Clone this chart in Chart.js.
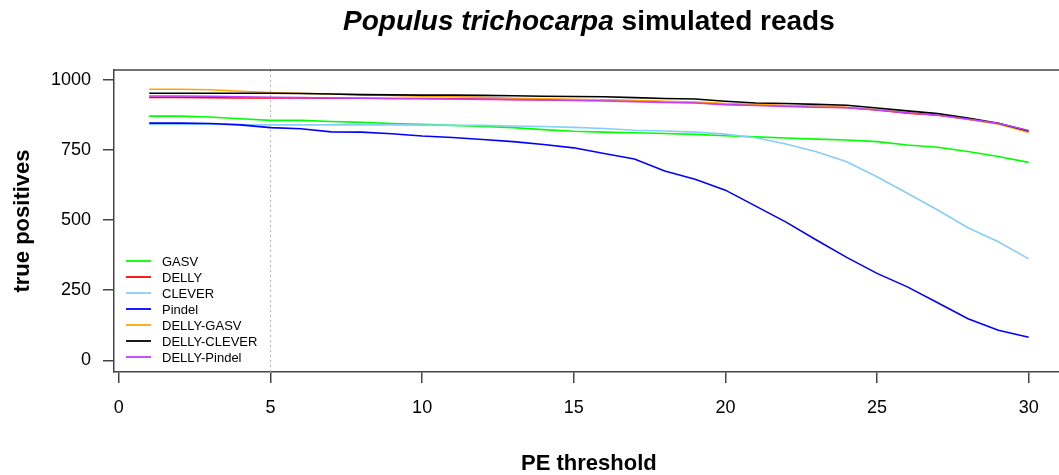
<!DOCTYPE html>
<html>
<head>
<meta charset="utf-8">
<script src="https://cdn.jsdelivr.net/npm/chart.js@4/dist/chart.umd.min.js"></script>
<style>
  html, body { margin: 0; padding: 0; background: #fff; overflow: hidden; }
</style>
</head>
<body>
<canvas id="grafikPE" width="1059" height="475"></canvas>
<script>
// data (true positives per PE threshold)
const thresholds = [1,2,3,4,5,6,7,8,9,10,11,12,13,14,15,16,17,18,19,20,21,22,23,24,25,26,27,28,29,30];

const gasv        = [871,871,868,862,856,856,852,849,845,842,838,834,830,823,817,814,812,809,806,801,797,793,789,786,780,768,760,745,727,706];
const delly       = [938,938,937,936,936,936,935,935,934,934,933,932,931,930,929,928,926,922,920,914,911,908,905,902,893,882,874,860,844,818];
const clever      = [842,842,842,841,840,840,840,840,840,839,838,838,836,834,831,827,821,818,814,807,794,772,744,708,655,596,536,473,423,362];
const pindel      = [846,846,845,840,830,826,815,814,808,800,795,788,780,770,758,738,718,675,646,607,550,493,429,367,310,262,205,148,107,82];
const dellyGasv   = [967,967,965,960,955,953,950,947,945,942,940,938,935,933,931,929,927,924,921,916,912,909,906,902,894,884,876,860,843,813];
const dellyClever = [953,953,953,953,953,952,950,948,947,946,946,945,944,942,941,940,937,934,932,924,918,916,913,910,900,890,880,864,846,818];
const dellyPindel = [943,943,942,940,938,937,936,935,934,933,932,931,930,929,927,925,923,920,918,912,909,906,903,901,893,883,875,861,846,820];

const seriesNames  = ["GASV", "DELLY", "CLEVER", "Pindel", "DELLY-GASV", "DELLY-CLEVER", "DELLY-Pindel"];
const seriesValues = [gasv, delly, clever, pindel, dellyGasv, dellyClever, dellyPindel];
const lineColors   = ["#00ff00", "#ff0000", "#87cefa", "#0000ff", "#ffa500", "#000000", "#bf3eff"];

const xTicks = [0, 5, 10, 15, 20, 25, 30];
const yTicks = [0, 250, 500, 750, 1000];
const cutoff = 5;

const FONT = "'Liberation Sans', Arial, sans-serif";

// judul, label sumbu, garis cutoff, kotak dan legenda ala R
const rStyle = {
  id: "rStyle",
  beforeDatasetsDraw(chart) {
    const ctx = chart.ctx;
    const a = chart.chartArea;
    const xs = chart.scales.x;
    const px = Math.round(xs.getPixelForValue(cutoff)) + 0.5;
    ctx.save();
    ctx.strokeStyle = "#b4b4b4";
    ctx.lineWidth = 1;
    ctx.setLineDash([2, 3]);
    ctx.beginPath();
    ctx.moveTo(px, a.top);
    ctx.lineTo(px, a.bottom);
    ctx.stroke();
    ctx.restore();
  },
  afterDraw(chart) {
    const ctx = chart.ctx;
    const a = chart.chartArea;
    ctx.save();

    // garis atas kotak
    ctx.strokeStyle = "#444";
    ctx.lineWidth = 1.5;
    ctx.beginPath();
    ctx.moveTo(a.left, a.top);
    ctx.lineTo(chart.width, a.top);
    ctx.stroke();

    // judul
    const cx = (a.left + chart.scales.x.getPixelForValue(31.16)) / 2;
    const t1 = "Populus trichocarpa";
    const t2 = " simulated reads";
    ctx.fillStyle = "#000";
    ctx.textBaseline = "alphabetic";
    ctx.font = "italic bold 28px " + FONT;
    const w1 = ctx.measureText(t1).width;
    ctx.font = "bold 28px " + FONT;
    const w2 = ctx.measureText(t2).width;
    const x0 = cx - (w1 + w2) / 2;
    ctx.textAlign = "left";
    ctx.font = "italic bold 28px " + FONT;
    ctx.fillText(t1, x0, 30);
    ctx.font = "bold 28px " + FONT;
    ctx.fillText(t2, x0 + w1, 30);

    // label sumbu
    ctx.font = "bold 22px " + FONT;
    ctx.textAlign = "center";
    ctx.textBaseline = "middle";
    ctx.fillText("PE threshold", cx, 464);
    ctx.save();
    ctx.translate(23, (a.top + a.bottom) / 2);
    ctx.rotate(-Math.PI / 2);
    ctx.fillText("true positives", 0, 0);
    ctx.restore();

    // legenda
    ctx.font = "13px " + FONT;
    ctx.textAlign = "left";
    seriesNames.forEach((name, i) => {
      const y = 261 + i * 16;
      ctx.strokeStyle = lineColors[i];
      ctx.lineWidth = 1.8;
      ctx.beginPath();
      ctx.moveTo(126, y);
      ctx.lineTo(151, y);
      ctx.stroke();
      ctx.fillStyle = "#000";
      ctx.fillText(name, 162, y + 1);
    });
    ctx.restore();
  }
};

new Chart("grafikPE", {
  type: "line",
  data: {
    datasets: seriesNames.map((name, i) => ({
      label: name,
      data: thresholds.map((t, j) => ({ x: t, y: seriesValues[i][j] })),
      borderColor: lineColors[i],
      backgroundColor: lineColors[i],
      borderWidth: 1.6,
      pointRadius: 0,
      tension: 0,
      fill: false,
      order: seriesNames.length - i
    }))
  },
  options: {
    responsive: false,
    animation: false,
    devicePixelRatio: 1,
    layout: { padding: { top: 70, right: 0, bottom: 0, left: 0 } },
    plugins: {
      legend: { display: false },
      title: { display: false },
      tooltip: { enabled: false }
    },
    scales: {
      x: {
        type: "linear",
        min: -0.16,
        max: 31.0,
        afterBuildTicks: (s) => { s.ticks = xTicks.map(v => ({ value: v })); },
        afterFit: (s) => { s.height = 103; },
        grid: { drawOnChartArea: false, drawTicks: true, tickLength: 11, color: "#444", lineWidth: 1.5 },
        border: { display: true, color: "#444", width: 1.5 },
        ticks: { font: { family: FONT, size: 18 }, color: "#000", padding: 14, maxRotation: 0, autoSkip: false,
                 callback: (v) => String(v) }
      },
      y: {
        type: "linear",
        min: -41.8,
        max: 1035.7,
        afterBuildTicks: (s) => { s.ticks = yTicks.map(v => ({ value: v })); },
        afterFit: (s) => { s.width = 114; },
        grid: { drawOnChartArea: false, drawTicks: true, tickLength: 11, color: "#444", lineWidth: 1.5 },
        border: { display: true, color: "#444", width: 1.5 },
        ticks: { font: { family: FONT, size: 18 }, color: "#000", padding: 12, autoSkip: false,
                 callback: (v) => String(v) }
      }
    }
  },
  plugins: [rStyle]
});
</script>
</body>
</html>
